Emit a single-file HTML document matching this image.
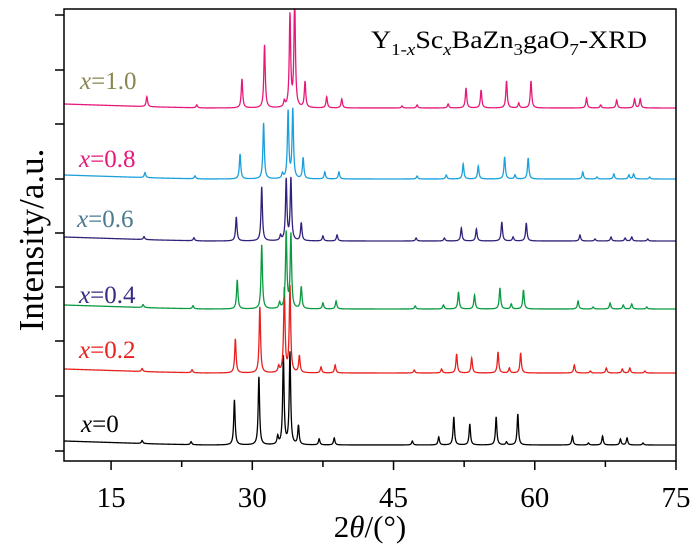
<!DOCTYPE html>
<html><head><meta charset="utf-8"><style>
body{margin:0;background:#fff}
svg{display:block;font-family:"Liberation Serif",serif}
</style></head><body>
<svg id="chart" width="700" height="553" viewBox="0 0 700 553" xmlns="http://www.w3.org/2000/svg">
<g id="series"></g>
<rect x="64" y="9" width="612" height="452" fill="none" stroke="#000" stroke-width="1.5"/>
<g id="axes"></g>
<text x="371" y="48" font-size="25" textLength="276" lengthAdjust="spacingAndGlyphs">Y<tspan font-size="17" dy="7">1-<tspan font-style="italic">x</tspan></tspan><tspan dy="-7">Sc</tspan><tspan font-size="17" dy="7" font-style="italic">x</tspan><tspan dy="-7">BaZn</tspan><tspan font-size="17" dy="7">3</tspan><tspan dy="-7">gaO</tspan><tspan font-size="17" dy="7">7</tspan><tspan dy="-7">-XRD</tspan></text>
<text x="370" y="537" font-size="31" text-anchor="middle">2<tspan font-style="italic">θ</tspan>/(°)</text>
<text transform="translate(43,240) rotate(-90)" font-size="35" text-anchor="middle">Intensity/a.u.</text>
<g font-size="25">
<text x="80" y="89" fill="#8b8650"><tspan font-style="italic">x</tspan>=1.0</text>
<text x="79" y="167" fill="#e6197a"><tspan font-style="italic">x</tspan>=0.8</text>
<text x="77" y="227" fill="#4a7a90"><tspan font-style="italic">x</tspan>=0.6</text>
<text x="79" y="303" fill="#3a2a80"><tspan font-style="italic">x</tspan>=0.4</text>
<text x="79" y="358" fill="#e8211e"><tspan font-style="italic">x</tspan>=0.2</text>
<text x="81" y="432" fill="#000"><tspan font-style="italic">x</tspan>=0</text>
</g>
</svg>
<script>
const xTicks=[15,30,45,60,75];
const xMinor=[22.5,37.5,52.5,67.5];
const yTicks=[10,65,120,174,228,282,337,391,446];
const bgAngles=[10,15,20,25,75];
const bgLevel=[4,2.5,1,0,0];
const offsets=[16,88,152,220,282,353];
const colors=["#000","#e8211e","#0a9a40","#33207a","#1aa0dc","#e6197a"];
const names=["x0","x0.2","x0.4","x0.6","x0.8","x1.0"];
const pos0=[18.3,23.5,28.1,30.7,32.7,33.3,34.0,34.9,37.1,38.7,47.0,49.8,51.4,53.1,55.9,57.0,58.2,64.0,65.7,67.2,69.1,69.8,71.5];
const h0=[3,3,45,68,8,88,92,19,6,7,4,8,28,21,28,3,31,9,2,9,6,7,2];
const pos1=[18.3,23.6,28.2,30.8,32.8,33.4,34.0,35.0,37.3,38.8,47.2,50.1,51.7,53.3,56.1,57.3,58.5,64.2,65.9,67.6,69.3,70.1,71.7];
const h1=[3,3,34,66,6,84,86,17,6,8,3,4,19,15,21,5,20,8,2,5,4,5,2];
const pos2=[18.4,23.7,28.4,31.0,32.9,33.6,34.1,35.2,37.5,38.9,47.3,50.3,51.9,53.6,56.3,57.5,58.8,64.6,66.2,68.0,69.4,70.3,71.9];
const h2=[3,3,29,64,6,76,74,22,6,8,3,4,17,14,21,5,19,8,2,6,4,5,2];
const pos3=[18.5,23.8,28.3,31.0,33.0,33.6,34.1,35.2,37.5,39.0,47.4,50.4,52.2,53.8,56.5,57.7,59.1,64.8,66.4,68.1,69.6,70.3,72.0];
const h3=[3,3,24,54,5,61,62,18,5,6,3,3,13,12,19,4,18,6,2,4,3,4,2];
const pos4=[18.6,23.9,28.7,31.2,33.2,33.8,34.3,35.4,37.7,39.2,47.5,50.6,52.4,54.0,56.8,57.9,59.3,65.1,66.6,68.4,70.0,70.5,72.2];
const h4=[5,3,25,56,5,67,69,21,7,7,3,4,15,13,22,4,21,7,2,5,4,5,2];
const pos5=[18.8,24.1,28.9,31.3,33.4,34.0,34.5,35.6,37.9,39.5,45.9,47.5,50.8,52.7,54.3,57.0,58.3,59.6,65.5,67.0,68.7,70.6,71.2];
const h5=[10,3,29,63,6,92,110,26,11,9,2,3,4,20,18,27,5,27,10,3,8,9,9];
const allPos=[pos0,pos1,pos2,pos3,pos4,pos5];
const allH=[h0,h1,h2,h3,h4,h5];

const X0=10,X1=75,PX0=64,PX1=676,PY0=461;
function xs(v){return PX0+(v-X0)*(PX1-PX0)/(X1-X0);}
function ys(v){return PY0-v;}
function bg(a){for(let i=0;i<bgAngles.length-1;i++){if(a<=bgAngles[i+1]){const t=(a-bgAngles[i])/(bgAngles[i+1]-bgAngles[i]);return bgLevel[i]+t*(bgLevel[i+1]-bgLevel[i]);}}return 0;}
const NS="http://www.w3.org/2000/svg";
const sg=document.getElementById('series');
for(let s=0;s<6;s++){
  let d="";
  for(let a=X0;a<=X1+1e-9;a+=0.02){
    let v=offsets[s]+bg(a);
    const P=allPos[s],H=allH[s];
    for(let k=0;k<P.length;k++){const g=0.09;const dx=(a-P[k])/g;v+=H[k]/(1+dx*dx);}
    const y=Math.max(9,ys(v));
    d+=(d?"L":"M")+xs(a).toFixed(2)+","+y.toFixed(2);
  }
  const p=document.createElementNS(NS,'path');
  p.setAttribute('d',d);p.setAttribute('fill','none');p.setAttribute('stroke',colors[s]);p.setAttribute('stroke-width','1.3');
  
  
  sg.appendChild(p);
}
const ax=document.getElementById('axes');
function line(x1,y1,x2,y2,n){const l=document.createElementNS(NS,'line');l.setAttribute('x1',x1);l.setAttribute('y1',y1);l.setAttribute('x2',x2);l.setAttribute('y2',y2);l.setAttribute('stroke','#000');l.setAttribute('stroke-width','1.5');


ax.appendChild(l);}
xTicks.forEach(t=>{line(xs(t),PY0,xs(t),PY0+9,'x-tick');
const tx=document.createElementNS(NS,'text');tx.setAttribute('x',xs(t));tx.setAttribute('y',507);tx.setAttribute('font-size','29');tx.setAttribute('text-anchor','middle');tx.textContent=t;


ax.appendChild(tx);});
xMinor.forEach(t=>line(xs(t),PY0,xs(t),PY0+6,'x-minor-tick'));
yTicks.forEach(t=>line(55,ys(t),64,ys(t),'y-tick'));
</script>
</body></html>
